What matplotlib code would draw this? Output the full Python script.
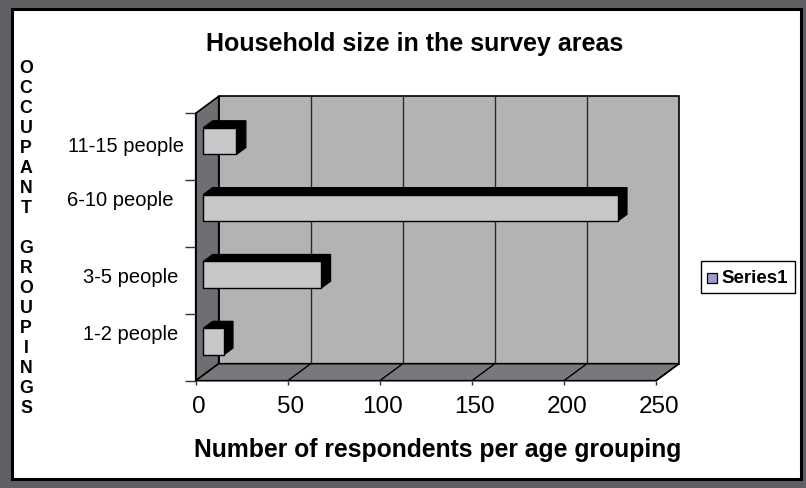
import matplotlib
matplotlib.use("Agg")
import matplotlib.pyplot as plt
from matplotlib.patches import Polygon, Rectangle

# ---- data ----
categories = ["1-2 people", "3-5 people", "6-10 people", "11-15 people"]
respondents = [11, 64, 225, 18]
x_ticks = [0, 50, 100, 150, 200, 250]
series_name = "Series1"
title = "Household size in the survey areas"
x_label = "Number of respondents per age grouping"
y_label = "OCCUPANT GROUPINGS"

# ---- styling ----
W, H = 806, 489
FONT = "Liberation Sans"
frame_col = "#5f6064"
wall_col = "#b3b3b5"
side_col = "#6e6f73"
floor_col = "#78797d"
bar_face = "#c6c7c9"
legend_col = "#9c9ccc"

fig = plt.figure(figsize=(W / 100, H / 100), dpi=100)
fig.patch.set_facecolor(frame_col)


def fx(x):
    return x / W


def fy(y):
    return 1 - y / H


# white chart area with black outline
fig.add_artist(Rectangle((fx(11.5), fy(479.5)), fx(801) - fx(11.5), fy(10) - fy(479.5),
                         transform=fig.transFigure, facecolor="white",
                         edgecolor="black", linewidth=2.2, zorder=0))

# front plane of the plot in pixels
left_px, right_px, top_px, bot_px = 195.7, 656.0, 114.3, 381.7
ax = fig.add_axes([fx(left_px), fy(bot_px), fx(right_px) - fx(left_px), fy(top_px) - fy(bot_px)])
ax.set_xlim(0, 250)
ax.set_ylim(0, len(categories))
ax.axis("off")
ax.patch.set_alpha(0)

xpp = 250 / (right_px - left_px)            # data units per pixel (x)
ypp = len(categories) / (bot_px - top_px)   # data units per pixel (y)
DX, DY = 23 * xpp, 17 * ypp                 # depth offset
ncat = len(categories)
xmax = x_ticks[-1]


def poly(pts, fc, z, lw=0.9, ec="black"):
    ax.add_patch(Polygon(pts, closed=True, facecolor=fc, edgecolor=ec,
                         linewidth=lw, zorder=z, clip_on=False))


def line(xs, ys, z, lw=0.9, c="black"):
    ax.plot(xs, ys, color=c, linewidth=lw, zorder=z, clip_on=False, solid_capstyle="butt")


# back wall
poly([(DX, DY), (xmax + DX, DY), (xmax + DX, ncat + DY), (DX, ncat + DY)], wall_col, 1, lw=1.2)
for v in x_ticks[1:-1]:
    line([v + DX, v + DX], [DY, ncat + DY], 1.5, lw=1.0, c="#2a2a2a")
# side wall
poly([(0, 0), (DX, DY), (DX, ncat + DY), (0, ncat)], side_col, 2, lw=1.2)
# floor
poly([(0, 0), (xmax, 0), (xmax + DX, DY), (DX, DY)], floor_col, 2, lw=1.2)
for v in x_ticks[1:]:
    line([v, v + DX], [0, DY], 2.5, lw=1.0)

# axis ticks
for k in range(ncat + 1):
    line([-10.5 * xpp, 0], [k, k], 3, lw=1.0, c="#333333")
for v in x_ticks:
    line([v, v], [0, -4 * ypp], 3, lw=1.0, c="#333333")
line([0, 0], [0, ncat], 3, lw=1.2)

# 3-D bars
d0, d1 = 0.33, 0.74
half = 0.2
for i, v in enumerate(respondents):
    x0 = d0 * DX
    y0 = i + 0.5 - half + d0 * DY
    h = 2 * half
    ddx, ddy = (d1 - d0) * DX, (d1 - d0) * DY
    poly([(x0, y0 + h), (x0 + v, y0 + h), (x0 + v + ddx, y0 + h + ddy), (x0 + ddx, y0 + h + ddy)],
         "black", 5)
    poly([(x0 + v, y0), (x0 + v + ddx, y0 + ddy), (x0 + v + ddx, y0 + h + ddy), (x0 + v, y0 + h)],
         "black", 5)
    ax.add_patch(Rectangle((x0, y0), v, h, facecolor=bar_face, edgecolor="black",
                           linewidth=1.0, zorder=6, clip_on=False))

# value tick labels
for v in x_ticks:
    ax.text(v + 1.5, -25.5 * ypp, str(v), ha="center", va="center", fontsize=17.5,
            family=FONT, clip_on=False)

# category labels (right edge / vertical centre in pixels)
label_anchor_px = [(178.5, 334), (178.5, 278), (173.5, 200), (184.5, 146)]
for name, (xr, yc) in zip(categories, label_anchor_px):
    fig.text(fx(xr), fy(yc), name, ha="right", va="center", fontsize=14.5, family=FONT)

# titles
fig.text(fx(415), fy(43.5), title, ha="center", va="center", fontsize=18,
         fontweight="bold", family=FONT)
fig.text(fx(438), fy(450.5), x_label, ha="center", va="center", fontsize=17.8,
         fontweight="bold", family=FONT)
for j, ch in enumerate(y_label):
    if ch != " ":
        fig.text(fx(26), fy(68.5 + 20 * j), ch, ha="center", va="center", fontsize=12.8,
                 fontweight="bold", family=FONT)

# legend
fig.add_artist(Rectangle((fx(701), fy(293.5)), fx(794.5) - fx(701), fy(262) - fy(293.5),
                         transform=fig.transFigure, facecolor="white",
                         edgecolor="black", linewidth=1.0))
fig.add_artist(Rectangle((fx(706.5), fy(284)), fx(717) - fx(706.5), fy(273.5) - fy(284),
                         transform=fig.transFigure, facecolor=legend_col,
                         edgecolor="black", linewidth=0.9))
fig.text(fx(721.5), fy(278.5), series_name, ha="left", va="center", fontsize=13.5,
         fontweight="bold", family=FONT)

fig.savefig("out.png", dpi=100, facecolor=fig.get_facecolor())
